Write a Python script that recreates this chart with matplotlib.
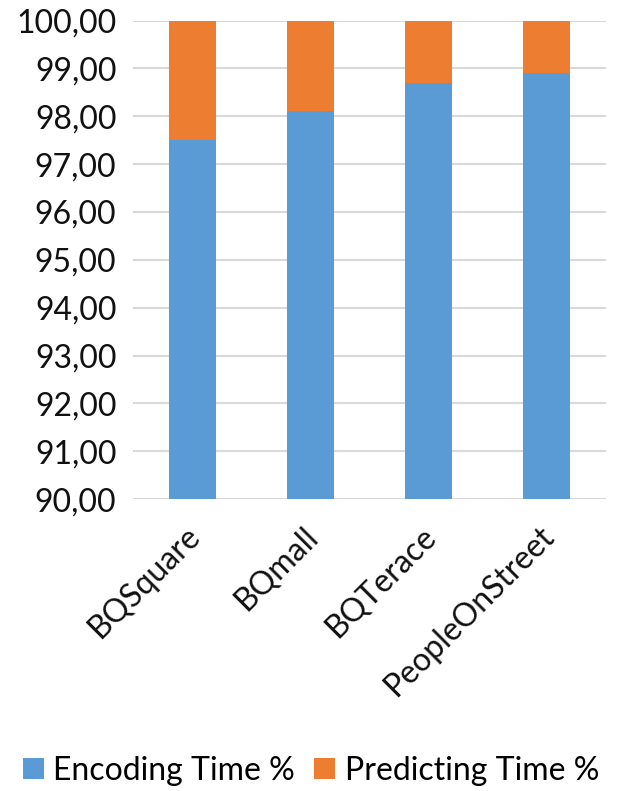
import numpy as np
import matplotlib.pyplot as plt
import matplotlib.transforms as mtransforms

plt.rcParams['font.family'] = ['Lato', 'DejaVu Sans']

# share of total time per sequence
sequences = ['BQSquare', 'BQmall', 'BQTerace', 'PeopleOnStreet']
encoding_pct = [97.5, 98.1, 98.7, 98.9]
predicting_pct = [2.5, 1.9, 1.3, 1.1]

blue = '#5B9BD5'
orange = '#ED7D31'

fig = plt.figure(figsize=(6.22, 7.91), dpi=100)
ax = fig.add_axes([0.214, 0.369, 0.760, 0.605])

x = np.arange(len(sequences))
ax.bar(x, encoding_pct, width=0.4, color=blue, label='Encoding Time %', zorder=3)
ax.bar(x, predicting_pct, width=0.4, bottom=encoding_pct, color=orange,
       label='Predicting Time %', zorder=3)

ax.set_ylim(90, 100)
ax.set_xlim(-0.5, len(sequences) - 0.5)
yticks = np.arange(90, 101, 1)
ax.set_yticks(yticks)
ax.set_yticklabels([f'{v:.2f}'.replace('.', ',') for v in yticks], fontsize=23)
ax.set_xticks(x)
ax.set_xticklabels(sequences, fontsize=23, rotation=45, ha='right',
                   rotation_mode='anchor')
ax.tick_params(axis='both', length=0, pad=12, colors='#111111')
ax.tick_params(axis='x', pad=16)

# nudge rotated labels a little to the left
shift = mtransforms.ScaledTranslation(-8 / 100, 0, fig.dpi_scale_trans)
for lbl in ax.get_xticklabels():
    lbl.set_transform(lbl.get_transform() + shift)

ax.grid(axis='y', color='#D9D9D9', linewidth=1.5, zorder=0)
for s in ax.spines.values():
    s.set_visible(False)

fig.legend(loc='lower center', bbox_to_anchor=(0.5, -0.03), ncol=2, frameon=False,
           fontsize=23, handlelength=0.65, handleheight=0.65, handletextpad=0.3,
           columnspacing=0.6)

fig.savefig('out.png', dpi=100)
